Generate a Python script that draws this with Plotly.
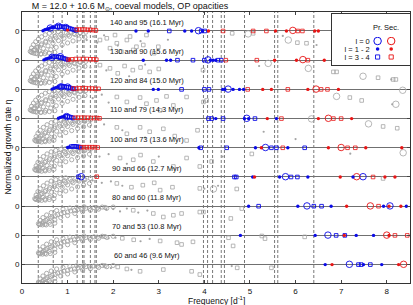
import plotly.graph_objects as go

# ---------------- data ----------------
panel_labels = ["140 and 95 (16.1 Myr)", "130 and 90 (15.6 Myr)", "120 and 84 (15.0 Myr)",
                "110 and 79 (14.3 Myr)", "100 and 73 (13.6 Myr)", "90 and 66 (12.7 Myr)",
                "80 and 60 (11.8 Myr)", "70 and 53 (10.8 Myr)", "60 and 46 (9.6 Myr)"]
panel_base = [8, 7, 6, 5, 4, 3, 2, 1, 0]          # vertical offset of each panel's eta = 0
ytick_text = ["0", "0", "0", "0", "0", "0", "0", "0", "0"]
x_ticks = [0, 1, 2, 3, 4, 5, 6, 7, 8]

# observed frequencies (dashed lines)
obs_freq = [0.357, 0.685, 0.88, 1.21, 1.33, 1.36, 1.50, 1.60, 1.63,
            3.98, 4.07, 4.18, 4.37, 4.44, 4.88, 5.54, 5.61, 6.40]

# dense stable g-mode sequences (three shapes)
blob_A_f = [0.18, 0.21, 0.25, 0.30, 0.36, 0.43, 0.51, 0.60, 0.70, 0.80,
            0.22, 0.28, 0.35, 0.43, 0.52, 0.62, 0.73, 0.85, 0.97, 1.08,
            0.30, 0.38, 0.47, 0.57, 0.68, 0.80, 0.92, 1.04, 1.16, 1.28,
            0.42, 0.52, 0.63, 0.75, 0.88, 1.00, 1.12, 1.25, 1.38,
            0.20, 0.26, 0.33, 0.41, 0.50, 0.60, 0.72,
            0.25, 0.33, 0.42, 0.52, 0.63, 0.75, 0.88, 1.01, 1.14, 1.27, 1.40]
blob_A_eta = [-0.70, -0.58, -0.47, -0.37, -0.28, -0.20, -0.13, -0.08, -0.05, -0.03,
              -0.74, -0.64, -0.54, -0.44, -0.35, -0.26, -0.18, -0.12, -0.07, -0.04,
              -0.77, -0.69, -0.60, -0.51, -0.42, -0.33, -0.25, -0.18, -0.12, -0.07,
              -0.78, -0.72, -0.64, -0.56, -0.48, -0.41, -0.34, -0.27, -0.21,
              -0.72, -0.76, -0.78, -0.79, -0.78, -0.76, -0.73,
              -0.66, -0.57, -0.48, -0.39, -0.31, -0.24, -0.18, -0.13, -0.09, -0.06, -0.04]
blob_B_f = [0.28, 0.31, 0.35, 0.40, 0.47, 0.55, 0.64, 0.74, 0.85, 0.96,
            0.31, 0.37, 0.44, 0.52, 0.61, 0.71, 0.82, 0.94, 1.06, 1.18,
            0.38, 0.46, 0.55, 0.65, 0.76, 0.88, 1.00, 1.12, 1.25, 1.38,
            0.50, 0.60, 0.71, 0.83, 0.96, 1.09, 1.22, 1.35, 1.48,
            0.30, 0.36, 0.43, 0.51, 0.60, 0.70,
            0.33, 0.41, 0.50, 0.60, 0.71, 0.83, 0.96, 1.09, 1.22, 1.36, 1.50]
blob_B_eta = [-0.74, -0.62, -0.50, -0.40, -0.30, -0.21, -0.14, -0.09, -0.05, -0.03,
              -0.77, -0.67, -0.56, -0.46, -0.36, -0.27, -0.19, -0.13, -0.08, -0.05,
              -0.78, -0.70, -0.61, -0.52, -0.43, -0.35, -0.27, -0.20, -0.14, -0.09,
              -0.76, -0.70, -0.63, -0.56, -0.48, -0.41, -0.34, -0.28, -0.22,
              -0.76, -0.79, -0.80, -0.79, -0.77, -0.74,
              -0.70, -0.60, -0.50, -0.41, -0.33, -0.26, -0.20, -0.15, -0.11, -0.08, -0.05]
blob_C_f = [0.36, 0.40, 0.46, 0.54, 0.64, 0.76, 0.90, 1.05, 1.20, 1.36,
            0.40, 0.47, 0.56, 0.66, 0.78, 0.92, 1.07, 1.23, 1.40, 1.58, 1.76,
            0.50, 0.60, 0.72, 0.85, 1.00, 1.16, 1.33, 1.50, 1.68, 1.86,
            0.38, 0.45, 0.53, 0.62, 0.72,
            0.44, 0.52, 0.62, 0.73, 0.86, 1.00, 1.15, 1.31, 1.48, 1.65, 1.82, 2.00]
blob_C_eta = [-0.60, -0.49, -0.39, -0.30, -0.22, -0.15, -0.10, -0.06, -0.04, -0.02,
              -0.63, -0.54, -0.45, -0.37, -0.29, -0.22, -0.16, -0.11, -0.07, -0.05, -0.03,
              -0.62, -0.55, -0.47, -0.39, -0.32, -0.25, -0.19, -0.14, -0.10, -0.07,
              -0.62, -0.64, -0.64, -0.62, -0.58,
              -0.58, -0.49, -0.41, -0.33, -0.26, -0.20, -0.15, -0.11, -0.08, -0.06, -0.04, -0.03]
panel_blob = ["A", "A", "A", "B", "B", "B", "C", "C", "C"]

# scattered stable modes, per panel
stab_sq_f = [[1.71, 1.86, 1.93, 2.04, 2.08, 2.18, 2.30, 2.37, 2.44, 2.51, 2.66, 2.73, 2.90, 2.99, 4.61, 5.07, 6.04, 6.24],
             [1.71, 1.93, 2.10, 2.25, 2.43, 2.60, 2.80, 3.00, 3.97, 6.83, 6.90, 7.81, 8.14, 8.20],
             [2.08, 2.30, 2.59, 2.73, 2.95, 3.17, 3.32, 3.03, 3.61, 3.98, 4.05, 7.19, 7.45],
             [2.08, 2.30, 2.59, 2.80, 3.10, 3.35, 3.61, 3.85, 7.92, 8.23],
             [2.15, 2.44, 2.60, 2.88, 3.32, 3.61, 3.90, 4.16, 5.04],
             [2.08, 2.40, 2.65, 2.90, 3.03, 3.30, 3.90, 4.71, 7.92],
             [2.44, 2.88, 3.10, 3.32, 3.50, 3.90, 3.98, 4.58, 4.82],
             [2.20, 2.45, 3.03, 3.40, 3.50, 3.75, 4.53, 4.63, 5.26, 5.33, 6.20],
             [2.10, 2.30, 2.59, 3.10, 3.72, 3.90, 4.72, 5.47]]
stab_sq_eta = [[-0.31, -0.25, -0.59, -0.14, -0.42, -0.71, -0.31, -0.19, -0.65, -0.54, -0.48, -0.14, -0.76, -0.54, -0.08, -0.08, -0.40, -0.42],
               [-0.17, -0.28, -0.45, -0.20, -0.34, -0.25, -0.40, -0.30, -0.34, -0.40, -0.40, -0.60, -0.66, -0.66],
               [-0.26, -0.43, -0.28, -0.49, -0.38, -0.24, -0.55, -0.72, -0.26, -0.43, -0.38, -0.28, -0.38],
               [-0.30, -0.52, -0.30, -0.45, -0.35, -0.60, -0.75, -0.40, -0.27, -0.33],
               [-0.35, -0.41, -0.25, -0.47, -0.64, -0.35, -0.64, -0.47, -0.21],
               [-0.22, -0.35, -0.28, -0.20, -0.45, -0.35, -0.39, -0.41, -0.05],
               [-0.14, -0.25, -0.37, -0.31, -0.25, -0.20, -0.20, -0.42, -0.08],
               [-0.10, -0.15, -0.19, -0.25, -0.31, -0.22, -0.08, -0.36, -0.02, -0.11, -0.05],
               [-0.08, -0.15, -0.23, -0.17, -0.23, -0.34, -0.11, -0.11]]
stab_dot_f = [[1.27, 1.42, 1.56, 1.65, 1.80, 2.10, 2.60, 3.20, 5.72, 6.46],
              [1.30, 1.50, 1.62, 1.85, 2.35, 2.70, 5.20, 8.10],
              [1.35, 1.55, 1.75, 1.90, 2.50, 8.12],
              [1.40, 1.60, 1.80, 2.20, 2.70, 5.30, 6.00],
              [1.50, 1.70, 1.90, 2.30, 3.00, 4.40, 7.20],
              [1.55, 1.75, 1.95, 2.20, 4.00, 4.30],
              [1.70, 1.85, 2.00, 2.15, 2.30, 2.55, 2.75],
              [1.75, 1.90, 2.05, 2.60, 2.80],
              [1.80, 1.95, 2.40, 4.60]]
stab_dot_eta = [[-0.14, -0.31, -0.19, -0.40, -0.15, -0.50, -0.35, -0.30, -0.17, -0.48],
                [-0.12, -0.25, -0.10, -0.35, -0.55, -0.15, -0.20, -0.66],
                [-0.10, -0.30, -0.18, -0.45, -0.60, -0.51],
                [-0.12, -0.28, -0.20, -0.40, -0.65, -0.45, -0.70],
                [-0.15, -0.30, -0.22, -0.55, -0.30, -0.30, -0.20],
                [-0.12, -0.20, -0.15, -0.30, -0.40, -0.30],
                [-0.06, -0.12, -0.10, -0.18, -0.08, -0.22, -0.15],
                [-0.05, -0.10, -0.08, -0.20, -0.12],
                [-0.05, -0.12, -0.18, -0.05]]
stab_circ_f = [[4.96, 5.84], [5.40, 6.28, 7.48], [6.90, 8.20, 8.35], [6.35, 7.60], [8.36], [4.20], [], [], []]
stab_circ_eta = [[-0.10, -0.31], [-0.11, -0.28, -0.55], [-0.24, -0.51, -0.03], [-0.01, -0.18], [-0.17], [-0.41], [], [], []]

# unstable modes: primary (blue) / secondary (red), l=0 circles, l=1-2 dots, l=3-4 squares
pri_l0_f = [[0.62, 0.80, 0.96, 3.87], [0.66, 0.84, 4.08], [0.86, 1.00, 4.52], [0.98, 4.93], [5.34],
            [1.30, 5.78, 7.48], [6.25, 8.07], [6.71], [7.18]]
pri_l0_eta = [[0.10, 0.16, 0.12, 0.01], [0.10, 0.12, 0.01], [0.09, 0.08, 0.01], [0.07, 0.01], [0.01],
              [0.01, 0.01, 0.01], [0.01, 0.01], [0.01], [0.01]]
pri_l12_f = [[0.46, 0.50, 0.54, 0.58, 0.62, 0.66, 0.70, 2.50, 2.77, 3.57, 3.72, 3.96],
             [0.48, 0.52, 0.56, 0.60, 0.64, 2.66, 3.17, 3.26, 4.13, 4.19, 4.25],
             [0.66, 0.70, 0.74, 0.78, 2.88, 2.99, 4.40, 4.45, 4.63, 4.77, 4.86],
             [0.80, 0.84, 0.88, 0.92, 4.25, 4.88, 4.97, 5.58],
             [1.00, 1.04, 3.88, 5.12, 5.83],
             [5.06, 5.65, 6.27, 7.26],
             [4.97, 6.05, 6.78, 7.93, 8.43],
             [4.79, 6.43, 7.33, 7.71],
             [6.65, 7.49, 7.89]]
pri_l12_eta = [[0.01, 0.04, 0.06, 0.08, 0.10, 0.12, 0.13, 0.0, 0.0, 0.0, 0.0, 0.0],
               [0.01, 0.04, 0.06, 0.08, 0.10, 0.0, 0.0, 0.0, 0.0, 0.0, 0.0],
               [0.01, 0.04, 0.06, 0.08, 0.0, 0.0, 0.0, 0.0, 0.0, 0.0, 0.0],
               [0.01, 0.04, 0.06, 0.07, 0.0, 0.0, 0.0, 0.0],
               [0.01, 0.03, 0.0, 0.0, 0.0],
               [0.0, 0.0, 0.0, 0.0],
               [0.0, 0.0, 0.0, 0.0, 0.0],
               [0.0, 0.0, 0.0, 0.0],
               [0.0, 0.0, 0.0]]
pri_l34_f = [[0.74, 0.78, 0.82, 0.86, 0.90, 0.94, 0.98, 1.02, 1.06, 1.10, 1.14, 1.18, 3.23, 3.93, 4.01],
             [0.68, 0.72, 0.76, 0.80, 0.84, 0.88, 0.92, 0.96, 1.00, 3.41, 3.75, 4.00, 4.30, 4.37],
             [0.82, 0.86, 0.90, 0.94, 0.98, 1.02, 1.06, 1.10, 1.14, 3.50, 4.00, 4.10],
             [0.96, 1.00, 1.04, 1.08, 1.12, 4.09, 4.16, 4.41, 5.11],
             [1.08, 1.12, 1.16, 1.20, 1.24, 1.27, 3.92, 4.49, 5.47, 5.58, 6.20],
             [1.24, 4.66, 4.70, 5.90, 6.04],
             [5.19, 6.40, 6.57],
             [6.89, 7.08],
             [7.38, 7.44, 7.64]]
pri_l34_eta = [[0.14, 0.15, 0.15, 0.15, 0.14, 0.13, 0.12, 0.10, 0.08, 0.06, 0.04, 0.02, 0.0, 0.0, 0.0],
               [0.11, 0.12, 0.12, 0.11, 0.10, 0.08, 0.06, 0.04, 0.02, 0.0, 0.0, 0.0, 0.0, 0.0],
               [0.09, 0.10, 0.10, 0.09, 0.08, 0.07, 0.05, 0.03, 0.02, 0.0, 0.0, 0.0],
               [0.08, 0.07, 0.06, 0.04, 0.02, 0.0, 0.0, 0.0, 0.0],
               [0.04, 0.05, 0.05, 0.04, 0.03, 0.02, 0.0, 0.0, 0.0, 0.0, 0.0],
               [0.01, 0.0, 0.0, 0.0, 0.0],
               [0.0, 0.0, 0.0],
               [0.0, 0.0],
               [0.0, 0.0, 0.0]]
sec_l0_f = [[5.94], [6.16], [6.45], [6.72], [7.00], [7.34], [7.64], [8.00], [8.37]]
sec_l0_eta = [[0.02], [0.02], [0.01], [0.01], [0.01], [0.01], [0.01], [0.01], [0.01]]
sec_l12_f = [[1.00, 4.09, 5.56, 5.80, 6.42, 6.50],
             [1.04, 5.54, 6.02, 6.63],
             [5.28, 5.47, 6.27, 6.94],
             [5.38, 6.50, 7.23],
             [5.25, 6.72, 7.54, 8.33],
             [5.10, 6.98, 7.96, 8.18],
             [7.12, 8.05, 8.31],
             [7.07, 8.05],
             [6.80, 8.26]]
sec_l12_eta = [[0.03, 0.0, 0.0, 0.0, 0.0, 0.0],
               [0.02, 0.0, 0.0, 0.0],
               [0.0, 0.0, 0.0, 0.0],
               [0.0, 0.0, 0.0],
               [0.0, 0.0, 0.0, 0.0],
               [0.0, 0.0, 0.0, 0.0],
               [0.0, 0.0, 0.0],
               [0.0, 0.0],
               [0.0, 0.0]]
sec_l34_f = [[1.20, 1.26, 1.32, 1.38, 1.44, 1.50, 1.56, 1.62, 4.41, 5.07, 5.36, 6.05, 6.15],
             [1.02, 1.10, 1.18, 1.26, 1.34, 1.42, 1.50, 1.57, 1.63, 4.47, 5.15, 6.27],
             [1.12, 1.19, 1.26, 1.33, 1.40, 1.47, 1.54, 1.61, 1.68, 4.95, 5.83, 6.56, 6.70],
             [1.16, 1.23, 1.30, 1.37, 1.44, 1.51, 1.58, 1.65, 1.70, 5.69, 6.83, 7.00],
             [1.30, 1.36, 1.42, 1.48, 1.54, 1.60, 1.66, 5.72, 7.14, 7.31],
             [1.64, 7.70],
             [7.82],
             [8.18, 8.45],
             []]
sec_l34_eta = [[0.05, 0.05, 0.05, 0.05, 0.04, 0.04, 0.03, 0.02, 0.0, 0.0, 0.0, 0.0, 0.0],
               [0.02, 0.03, 0.04, 0.04, 0.04, 0.04, 0.03, 0.03, 0.02, 0.0, 0.0, 0.0],
               [0.03, 0.03, 0.04, 0.04, 0.04, 0.03, 0.03, 0.02, 0.02, 0.0, 0.0, 0.0, 0.0],
               [0.03, 0.03, 0.03, 0.03, 0.03, 0.02, 0.02, 0.02, 0.01, 0.0, 0.0, 0.0],
               [0.02, 0.02, 0.02, 0.02, 0.02, 0.02, 0.01, 0.0, 0.0, 0.0],
               [0.01, 0.0],
               [0.0],
               [0.0, 0.0],
               []]

legend_cols = ["Pr.", "Sec."]
legend_rows = ["l = 0", "l = 1 - 2", "l = 3 - 4"]

# ---------------- style ----------------
BLUE = "#0a0ae6"
RED = "#e81515"
GREY = "#a4a4a4"
FONT = "Liberation Sans, Arial, sans-serif"


def stack(f_lists, eta_lists):
    xs, ys = [], []
    for k, (fs, es) in enumerate(zip(f_lists, eta_lists)):
        xs += list(fs)
        ys += [e + panel_base[k] for e in es]
    return xs, ys


blob_sets = {"A": (blob_A_f, blob_A_eta), "B": (blob_B_f, blob_B_eta), "C": (blob_C_f, blob_C_eta)}
bx, by = stack([blob_sets[p][0] for p in panel_blob], [blob_sets[p][1] for p in panel_blob])

fig = go.Figure()


def add(xs, ys, symbol, color, size, lw=1.0, xa="x", ya="y"):
    fig.add_trace(go.Scatter(x=xs, y=ys, mode="markers", xaxis=xa, yaxis=ya,
                             marker=dict(symbol=symbol, color=color, size=size,
                                         line=dict(width=lw)),
                             hoverinfo="skip", showlegend=False))


add(bx, by, "circle-open", GREY, 4.2, 0.9)
add(*stack(stab_sq_f, stab_sq_eta), "square-open", GREY, 3.6, 0.8)
add(*stack(stab_dot_f, stab_dot_eta), "circle", GREY, 2.2, 0)
add(*stack(stab_circ_f, stab_circ_eta), "circle-open", GREY, 6.5, 0.8)

add(*stack(pri_l34_f, pri_l34_eta), "square-open", BLUE, 3.6, 0.9)
add(*stack(sec_l34_f, sec_l34_eta), "square-open", RED, 3.6, 0.8)
add(*stack(pri_l0_f, pri_l0_eta), "circle-open", BLUE, 6.5, 0.9)
add(*stack(sec_l0_f, sec_l0_eta), "circle-open", RED, 6.5, 0.9)
add(*stack(pri_l12_f, pri_l12_eta), "circle", BLUE, 3.4, 0)
add(*stack(sec_l12_f, sec_l12_eta), "circle", RED, 3.4, 0)

for f in obs_freq:
    fig.add_vline(x=f, line=dict(color="#555555", width=0.8, dash="3px,2px"), layer="below")

for lab, b in zip(panel_labels, panel_base):
    fig.add_annotation(x=2.75, y=b + 0.3, text=lab, showarrow=False,
                       font=dict(size=7.5, color="#111111", family=FONT), xref="x", yref="y")

# axis titles as annotations
fig.add_annotation(x=0.5, xref="paper", y=-0.066, yref="paper", yanchor="middle",
                   text="Frequency [d<sup>-1</sup>]", showarrow=False,
                   font=dict(size=8.5, color="#111111", family=FONT))
fig.add_annotation(x=-0.0385, xref="paper", y=0.5, yref="paper", xanchor="center",
                   yanchor="middle", textangle=-90, text="Normalized growth rate η",
                   showarrow=False, font=dict(size=8.5, color="#111111", family=FONT))

# legend: box subplot + category grid subplot
fig.add_trace(go.Scatter(x=[0.5], y=[0.5], xaxis="x2", yaxis="y2", mode="markers",
                         marker=dict(size=1, opacity=0), hoverinfo="skip", showlegend=False))
add(legend_cols, [legend_rows[0]] * 2, "circle-open", [BLUE, RED], 7.5, 1.0, "x3", "y3")
add(legend_cols, [legend_rows[1]] * 2, "circle", [BLUE, RED], 3.6, 0, "x3", "y3")
add(legend_cols, [legend_rows[2]] * 2, "square-open", [BLUE, RED], 4.2, 0.9, "x3", "y3")
for col in legend_cols:
    fig.add_annotation(x=col, xref="x3", y=0.941, yref="paper", text=col, showarrow=False,
                       yanchor="middle", font=dict(size=7.5, color="#111111", family=FONT))

fig.update_layout(
    width=413, height=305,
    margin=dict(l=22, r=3, t=12, b=22, autoexpand=False),
    paper_bgcolor="white", plot_bgcolor="white",
    font=dict(family=FONT, size=8, color="#111111"),
    showlegend=False,
    title=dict(text="M = 12.0 + 10.6 M<sub>⊙</sub>, coeval models, OP opacities",
               x=0.077, xanchor="left", y=0.981, yanchor="middle", automargin=False,
               font=dict(size=9, family=FONT, color="#111111")),
    xaxis=dict(range=[0, 8.51], tickvals=x_ticks, ticks="inside", ticklen=3,
               showline=True, mirror="ticks", linecolor="#333333", linewidth=1,
               showgrid=False, zeroline=False, tickfont=dict(size=8),
               automargin=False),
    yaxis=dict(range=[-0.63, 8.65], tickvals=panel_base, ticktext=ytick_text,
               ticks="inside", ticklen=3, showline=True, mirror="ticks",
               linecolor="#333333", linewidth=1, showgrid=True, gridcolor="#707070",
               gridwidth=1, zeroline=False, tickfont=dict(size=8),
               automargin=False),
    xaxis2=dict(domain=[0.799, 1.0], anchor="y2", range=[0, 1], showline=True, mirror=True,
                linecolor="#333333", linewidth=1, showticklabels=False, ticks="",
                showgrid=False, zeroline=False, fixedrange=True, automargin=False),
    yaxis2=dict(domain=[0.8044, 0.9926], anchor="x2", range=[0, 1], showline=True, mirror=True,
                linecolor="#333333", linewidth=1, showticklabels=False, ticks="",
                showgrid=False, zeroline=False, fixedrange=True, automargin=False),
    xaxis3=dict(domain=[0.899, 0.969], anchor="y3", type="category",
                categoryorder="array", categoryarray=legend_cols, range=[-0.5, 1.5],
                showticklabels=False, ticks="", showline=False, showgrid=False,
                zeroline=False, fixedrange=True, automargin=False),
    yaxis3=dict(domain=[0.8192, 0.9077], anchor="x3", type="category",
                categoryorder="array", categoryarray=legend_rows, range=[2.5, -0.5],
                tickmode="array", tickvals=legend_rows, tickangle=0,
                ticks="", showline=False, showgrid=False, zeroline=False,
                tickfont=dict(size=7.5), fixedrange=True, automargin=False),
)

fig.write_html("out.html", config={"displayModeBar": False},
               post_script="document.body.style.margin='0px';")
